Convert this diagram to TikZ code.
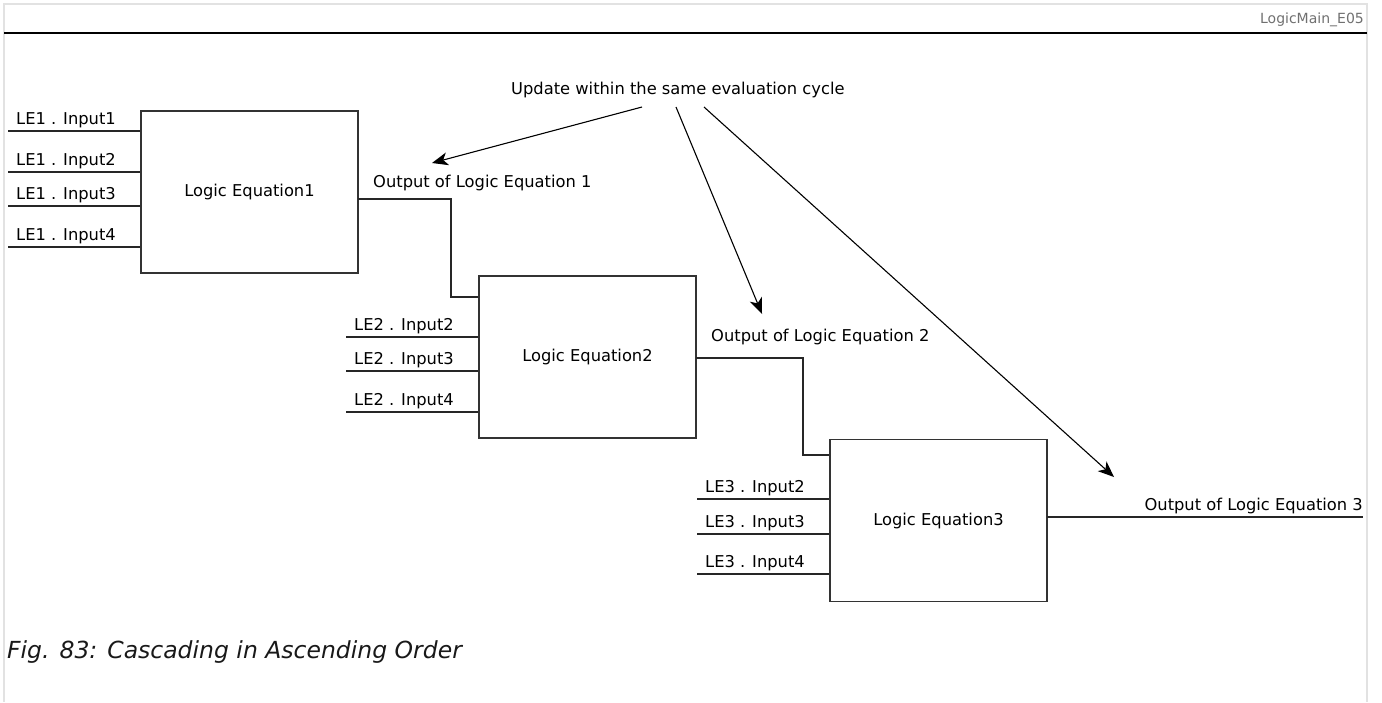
\documentclass[tikz,border=0pt]{standalone}
\usepackage{fontspec}
\setmainfont{DejaVu Sans}
\usetikzlibrary{arrows.meta}
\definecolor{framegray}{HTML}{E2E2E2}
\definecolor{boxline}{HTML}{333333}
\definecolor{idgray}{HTML}{707070}
\tikzset{
  lbl/.style={anchor=base west, inner sep=0pt, font=\fontsize{16.3}{19}\selectfont, text=black},
  eqbox/.style={draw=boxline, line width=1.5pt, minimum width=217pt, minimum height=162pt, inner sep=0pt, font=\fontsize{16.3}{19}\selectfont},
  wire/.style={draw=black!85, line width=1.3pt},
  note/.style={draw=black, line width=1.1pt, -{Stealth[length=16pt,width=13pt,inset=4.5pt]}},
}
\begin{document}
\begin{tikzpicture}[x=1pt,y=-1pt]
\useasboundingbox (0,0) rectangle (1382,702);
% frame
\draw[framegray, line width=1.2pt] (4,702) -- (4,4) -- (1367,4) -- (1367,702);
\draw[black, line width=2.2pt] (4,33) -- (1367,33);
\node[anchor=base east, inner sep=0pt, font=\fontsize{14}{16}\selectfont, text=idgray] (id) at (1364,23) {LogicMain\_E05};
% boxes
\node[eqbox] (b1) at (249.5,192) {Logic Equation1};
\node[eqbox] (b2) at (587.5,357) {Logic Equation2};
\node[eqbox] (b3) at (938.5,520.5) {Logic Equation3};
% LE1 inputs
\foreach \n/\y in {1/131,2/172,3/206,4/247}{
  \coordinate (a\n) at (8,\y);
  \draw[wire] (a\n) -- (a\n -| b1.west);
  \node[lbl] (la\n) at (16,\y-7) {LE1 . Input\n};
}
% LE2 inputs
\foreach \n/\y in {2/337,3/371,4/412}{
  \coordinate (c\n) at (346,\y);
  \draw[wire] (c\n) -- (c\n -| b2.west);
  \node[lbl] (lc\n) at (354,\y-7) {LE2 . Input\n};
}
% LE3 inputs
\foreach \n/\y in {2/499,3/534,4/574}{
  \coordinate (d\n) at (697,\y);
  \draw[wire] (d\n) -- (d\n -| b3.west);
  \node[lbl] (ld\n) at (705,\y-7) {LE3 . Input\n};
}
% outputs
\coordinate (o1) at (358,199);
\coordinate (o2) at (696,358);
\coordinate (o3) at (1047,517);
\coordinate (e3) at (1363,517);
\draw[wire] (o1) -- (451,199) |- (b2.west |- 0,297);
\draw[wire] (o2) -- (803,358) |- (b3.west |- 0,455);
\draw[wire] (o3) -- (e3);
\node[lbl] (out1) at (373,187) {Output of Logic Equation 1};
\node[lbl] (out2) at (711,341) {Output of Logic Equation 2};
\node[anchor=base east, inner sep=0pt, font=\fontsize{16.3}{19}\selectfont] (out3) at (1363,510) {Output of Logic Equation 3};
% update note
\node[lbl] (upd) at (511,94) {Update within the same evaluation cycle};
\coordinate (s1) at (642,107);
\coordinate (s2) at (676,107);
\coordinate (s3) at (704,107);
\coordinate (t1) at (432,163);
\coordinate (t2) at (762,314);
\coordinate (t3) at (1114,477);
\draw[note] (s1) -- (t1);
\draw[note] (s2) -- (t2);
\draw[note] (s3) -- (t3);
% caption
\node[anchor=base west, inner sep=0pt, font=\fontsize{23.5}{28}\selectfont\itshape, text=black!90] (cap) at (7,658) {Fig. 83: Cascading in Ascending Order};
\end{tikzpicture}
\end{document}
